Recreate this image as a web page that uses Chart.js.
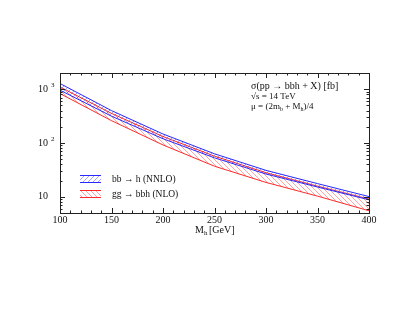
<!DOCTYPE html>
<html>
<head>
  <meta charset="UTF-8">
  <title>sigma(pp -> bbh + X)</title>
  <script src="https://cdn.jsdelivr.net/npm/chart.js"></script>
  <style>
    body { margin: 0; background: #ffffff; }
    canvas { display: block; }
  </style>
</head>
<body>
  <canvas id="grafico" width="409" height="327"></canvas>

  <script>
    // masses in GeV
    const masses = [100, 150, 200, 250, 300, 350, 400];
    // bb -> h (NNLO) band, fb
    const bbTop = [1275, 400, 147, 63, 31, 17.6, 10.1];
    const bbLow = [960, 315, 120, 53, 26.5, 15.2, 8.8];
    // gg -> bbh (NLO) band, fb
    const ggTop = [1100, 355, 132, 57, 28, 15.8, 9.1];
    const ggLow = [830, 260, 92, 37, 18.5, 10.3, 5.5];

    const xTicks = [100, 150, 200, 250, 300, 350, 400];
    const yDecades = [10, 100, 1000];

    const BLUE = '#2a2aff';
    const RED = '#ff2a2a';
    const FONT = '"Liberation Serif", "DejaVu Serif", serif';

    function hatch(color, forward) {
      const c = document.createElement('canvas');
      c.width = 5; c.height = 5;
      const g = c.getContext('2d');
      g.strokeStyle = color;
      g.globalAlpha = 0.55;
      g.lineWidth = 0.8;
      g.beginPath();
      if (forward) {
        g.moveTo(0, 5); g.lineTo(5, 0);
        g.moveTo(-1, 1); g.lineTo(1, -1);
        g.moveTo(4, 6); g.lineTo(6, 4);
      } else {
        g.moveTo(0, 0); g.lineTo(5, 5);
        g.moveTo(-1, 4); g.lineTo(1, 6);
        g.moveTo(4, -1); g.lineTo(6, 1);
      }
      g.stroke();
      return g.createPattern(c, 'repeat');
    }
    const bluePat = hatch(BLUE, true);
    const redPat = hatch(RED, false);

    function pts(ys) { return masses.map((m, i) => ({ x: m, y: ys[i] })); }

    const frame = {
      id: 'frame',
      afterDraw(chart) {
        const ctx = chart.ctx;
        const a = chart.chartArea;
        const xs = chart.scales.x, ys = chart.scales.y;
        ctx.save();
        ctx.strokeStyle = '#222';
        ctx.lineWidth = 1;
        ctx.strokeRect(a.left + 0.5, a.top + 0.5, a.right - a.left, a.bottom - a.top);

        ctx.beginPath();
        for (let v = 100; v <= 400; v += 10) {
          const px = Math.round(xs.getPixelForValue(v)) + 0.5;
          const len = (v % 50 === 0) ? 5 : 2.5;
          ctx.moveTo(px, a.bottom); ctx.lineTo(px, a.bottom - len);
          ctx.moveTo(px, a.top); ctx.lineTo(px, a.top + len);
        }
        for (let d = 1; d <= 1000; d *= 10) {
          for (let k = 1; k <= 9; k++) {
            const v = d * k;
            if (v < ys.min || v > ys.max) continue;
            const py = Math.round(ys.getPixelForValue(v)) + 0.5;
            const len = (k === 1) ? 5 : 2.5;
            ctx.moveTo(a.left, py); ctx.lineTo(a.left + len, py);
            ctx.moveTo(a.right, py); ctx.lineTo(a.right - len, py);
          }
        }
        ctx.stroke();

        ctx.fillStyle = '#111';
        ctx.font = '10px ' + FONT;
        ctx.textAlign = 'center';
        ctx.textBaseline = 'top';
        xTicks.forEach(v => ctx.fillText(String(v), xs.getPixelForValue(v), a.bottom + 2));

        ctx.textBaseline = 'middle';
        yDecades.forEach(v => {
          const py = ys.getPixelForValue(v);
          const e = Math.round(Math.log10(v));
          ctx.textAlign = 'left';
          ctx.font = '10px ' + FONT;
          ctx.fillText('10', 38, py);
          if (e > 1) {
            ctx.font = '7px ' + FONT;
            ctx.fillText(String(e), 51, py - 4);
          }
        });

        // axis title
        ctx.textAlign = 'left';
        ctx.font = '10px ' + FONT;
        ctx.fillText('M', 195, 230);
        ctx.font = '7px ' + FONT;
        ctx.fillText('h', 204, 233);
        ctx.font = '10px ' + FONT;
        ctx.fillText('[GeV]', 209, 230);

        // labels top right
        ctx.fillText('\u03c3(pp \u2192 bbh + X) [fb]', 251, 86);
        ctx.font = '9px ' + FONT;
        ctx.fillText('\u221as = 14 TeV', 251, 97);
        const y3 = 107;
        ctx.fillText('\u03bc = (2m', 251, y3);
        let w = ctx.measureText('\u03bc = (2m').width;
        ctx.font = '6px ' + FONT;
        ctx.fillText('b', 251 + w, y3 + 2.5);
        w += ctx.measureText('b').width;
        ctx.font = '9px ' + FONT;
        ctx.fillText(' + M', 251 + w, y3);
        w += ctx.measureText(' + M').width;
        ctx.font = '6px ' + FONT;
        ctx.fillText('h', 251 + w, y3 + 2.5);
        w += ctx.measureText('h').width;
        ctx.font = '9px ' + FONT;
        ctx.fillText(')/4', 251 + w, y3);

        // legend
        const items = [
          { y: 175, pat: bluePat, col: BLUE, text: 'bb \u2192 h (NNLO)' },
          { y: 190, pat: redPat, col: RED, text: 'gg \u2192 bbh (NLO)' }
        ];
        items.forEach(it => {
          ctx.fillStyle = it.pat;
          ctx.fillRect(80, it.y, 21, 7);
          ctx.strokeStyle = it.col;
          ctx.lineWidth = 1;
          ctx.beginPath();
          ctx.moveTo(80, it.y + 0.5); ctx.lineTo(101, it.y + 0.5);
          ctx.moveTo(80, it.y + 7.5); ctx.lineTo(101, it.y + 7.5);
          ctx.stroke();
          ctx.fillStyle = '#111';
          ctx.font = '9.5px ' + FONT;
          ctx.fillText(it.text, 112, it.y + 4);
        });
        ctx.restore();
      }
    };

    new Chart(document.getElementById('grafico').getContext('2d'), {
      type: 'line',
      data: {
        datasets: [
          { data: pts(bbTop), borderColor: BLUE, backgroundColor: bluePat, fill: '+1', order: 1 },
          { data: pts(bbLow), borderColor: BLUE, fill: false, order: 1 },
          { data: pts(ggTop), borderColor: RED, backgroundColor: redPat, fill: '+1', order: 2 },
          { data: pts(ggLow), borderColor: RED, fill: false, order: 2 }
        ]
      },
      options: {
        responsive: false,
        animation: false,
        layout: { padding: { left: 60, top: 73, right: 40, bottom: 114 } },
        elements: {
          line: { borderWidth: 1, tension: 0 },
          point: { radius: 0 }
        },
        plugins: { legend: { display: false }, tooltip: { enabled: false } },
        scales: {
          x: { type: 'linear', min: 100, max: 400, display: false },
          y: { type: 'logarithmic', min: 5, max: 2000, display: false }
        }
      },
      plugins: [frame]
    });
  </script>
</body>
</html>
